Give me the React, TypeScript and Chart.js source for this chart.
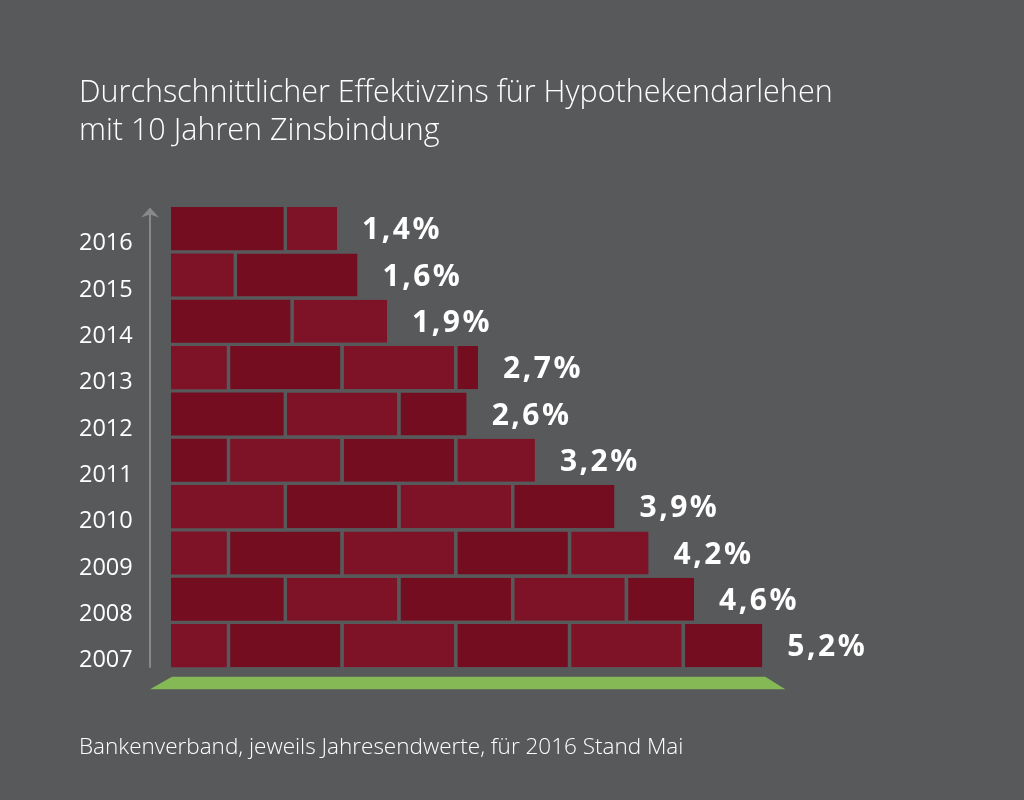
import { useEffect, useRef } from 'react'
import { Chart, registerables } from 'chart.js'

Chart.register(...registerables)

const titleLines = [
  'Durchschnittlicher Effektivzins für Hypothekendarlehen',
  'mit 10 Jahren Zinsbindung',
]
const sourceNote = 'Bankenverband, jeweils Jahresendwerte, für 2016 Stand Mai'

const years = ['2016', '2015', '2014', '2013', '2012', '2011', '2010', '2009', '2008', '2007']
const valueLabels = ['1,4%', '1,6%', '1,9%', '2,7%', '2,6%', '3,2%', '3,9%', '4,2%', '4,6%', '5,2%']

// brick lengths per course, left to right, in percentage points
const brick1 = [0.99, 0.55, 1.05, 0.49, 0.99, 0.49, 0.99, 0.49, 0.99, 0.49]
const brick2 = [0.47, 1.09, 0.85, 1.0, 1.0, 1.0, 1.0, 1.0, 1.0, 1.0]
const brick3 = [null, null, null, 1.0, 0.61, 1.0, 1.0, 1.0, 1.0, 1.0]
const brick4 = [null, null, null, 0.21, null, 0.71, 0.91, 1.0, 1.0, 1.0]
const brick5 = [null, null, null, null, null, null, null, 0.71, 0.61, 1.0]
const brick6 = [null, null, null, null, null, null, null, null, null, 0.71]
const bricks = [brick1, brick2, brick3, brick4, brick5, brick6]

const BG = '#58595b'
const DARK = '#740d20'
const LIGHT = '#7e1226'
const startsLight = [false, true, false, true, false, false, true, true, false, true]

const rowTotal = (i: number) => bricks.reduce((sum, b) => sum + (b[i] ?? 0), 0)

const decorations = {
  id: 'decorations',
  beforeDatasetsDraw(chart: Chart) {
    const { ctx, chartArea, scales } = chart
    const zero = scales.x.getPixelForValue(0)
    const end = scales.x.getPixelForValue(5.2)

    // ground slab
    ctx.save()
    ctx.fillStyle = '#84b955'
    ctx.beginPath()
    ctx.moveTo(zero + 1, chartArea.bottom + 8)
    ctx.lineTo(end + 3, chartArea.bottom + 8)
    ctx.lineTo(end + 23, chartArea.bottom + 20.5)
    ctx.lineTo(zero - 21, chartArea.bottom + 20.5)
    ctx.closePath()
    ctx.fill()

    // time arrow
    const ax = zero - 21
    ctx.strokeStyle = '#88898b'
    ctx.fillStyle = '#88898b'
    ctx.lineWidth = 2
    ctx.beginPath()
    ctx.moveTo(ax, chartArea.bottom - 1)
    ctx.lineTo(ax, chartArea.top + 8)
    ctx.stroke()
    ctx.beginPath()
    ctx.moveTo(ax, chartArea.top + 2)
    ctx.lineTo(ax + 9, chartArea.top + 12)
    ctx.lineTo(ax, chartArea.top + 9)
    ctx.lineTo(ax - 9, chartArea.top + 12)
    ctx.closePath()
    ctx.fill()
    ctx.restore()
  },
  afterDatasetsDraw(chart: Chart) {
    const { ctx, scales } = chart
    ctx.save()
    ctx.fillStyle = '#ffffff'
    ctx.font = '700 30px "Open Sans"'
    ctx.textBaseline = 'middle'
    ctx.textAlign = 'left'
    ;(ctx as any).letterSpacing = '2.5px'
    valueLabels.forEach((label, i) => {
      ctx.fillText(label, scales.x.getPixelForValue(rowTotal(i)) + 25, scales.y.getPixelForValue(i) + 2)
    })
    ctx.restore()
  },
}

export default function App() {
  const ref = useRef<HTMLCanvasElement>(null)

  useEffect(() => {
    if (!ref.current) return

    const chart = new Chart(ref.current, {
      type: 'bar',
      plugins: [decorations],
      data: {
        labels: years,
        datasets: bricks.map((data, course) => ({
          data,
          stack: 'wall',
          barPercentage: 0.93,
          categoryPercentage: 1,
          borderSkipped: false,
          borderColor: BG,
          borderWidth: course === 0 ? 0 : { left: 3.5, right: 0, top: 0, bottom: 0 },
          // bricks alternate along a course, starting light or dark per row
          backgroundColor: (c: any) =>
            (course + (startsLight[c.dataIndex] ? 1 : 0)) % 2 === 1 ? LIGHT : DARK,
        })),
      },
      options: {
        indexAxis: 'y',
        responsive: false,
        animation: false,
        layout: { padding: { left: 79, right: 57 } },
        scales: {
          x: { display: false, stacked: true, min: 0, max: 7 },
          y: {
            stacked: true,
            afterFit: (s: any) => {
              s.width = 92
            },
            border: { display: false },
            grid: { display: false },
            ticks: {
              color: '#ffffff',
              crossAlign: 'far',
              padding: 37,
              labelOffset: 15,
              font: { family: '"Open Sans"', size: 23.5 },
            },
          },
        },
        plugins: {
          legend: { display: false },
          tooltip: { enabled: false },
          title: {
            display: true,
            text: titleLines,
            align: 'start',
            color: '#ffffff',
            font: { family: '"Open Sans"', size: 30.5, weight: 300, lineHeight: 1.25 },
            padding: { top: 74.5, bottom: 54.75 },
          },
          subtitle: {
            display: true,
            position: 'bottom',
            text: sourceNote,
            align: 'start',
            color: '#ffffff',
            font: { family: '"Open Sans"', size: 22.5, weight: 300, lineHeight: 1.2 },
            padding: { top: 65.2, bottom: 39 },
          },
        },
      },
    })

    return () => chart.destroy()
  }, [])

  return (
    <div style={{ position: 'absolute', left: 0, top: 0, width: 1024, height: 800, background: BG }}>
      <canvas ref={ref} width={1024} height={800} />
    </div>
  )
}
